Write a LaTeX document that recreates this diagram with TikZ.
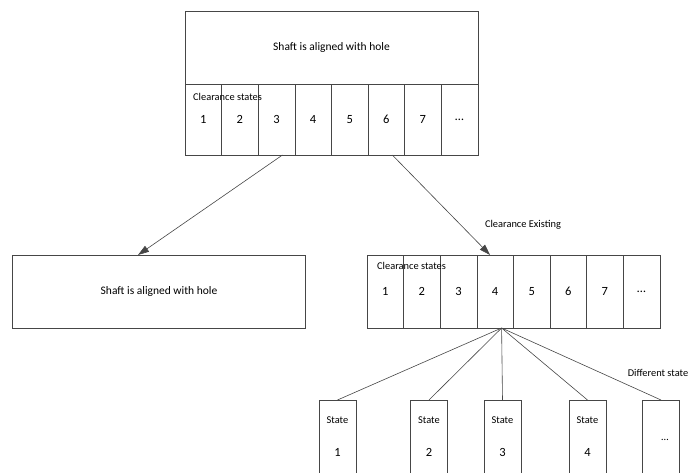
\documentclass[tikz,border=0pt]{standalone}
\usepackage{fontspec}
\setmainfont{Carlito}
\usetikzlibrary{arrows.meta, positioning}

\definecolor{linegray}{RGB}{70,70,70}

\begin{document}
\begin{tikzpicture}[x=1pt, y=-1pt,
    box/.style={draw=linegray, line width=0.6pt, rectangle, inner sep=0pt, outer sep=0pt},
    cell/.style={box, minimum width=36.6pt, minimum height=71pt, font=\fontsize{12.5}{14}\selectfont},
    bigbox/.style={box, minimum width=293pt, minimum height=73pt, font=\fontsize{11.5}{14}\selectfont},
    statebox/.style={box, minimum width=37pt, minimum height=84pt},
    small/.style={font=\fontsize{10.4}{12}\selectfont, inner sep=0pt},
    num/.style={font=\fontsize{12.5}{14}\selectfont, inner sep=0pt},
    link/.style={draw=linegray, line width=0.6pt},
    arrowlink/.style={link, -{Triangle[length=11pt, width=7pt]}}]
                % Cadre
                \clip (0,0) rectangle (691,473);

                % Bloc du haut
                \node[bigbox] (topbox) at (331.5,47.5) {Shaft is aligned with hole};
                \foreach \lab [count=\i] in {1,2,3,4,5,6,7,\dots}
                    \node[cell] (t\i) at (166.7+36.6*\i,119.5) {\lab};
                \node[small, anchor=west] (topstates) at (193,97) {Clearance states};

                % Bloc de gauche
                \node[bigbox] (leftbox) at (159,291.5) {Shaft is aligned with hole};

                % Bloc de droite
                \foreach \lab [count=\i] in {1,2,3,4,5,6,7,\dots}
                    \node[cell, minimum height=73pt] (r\i) at (348.7+36.6*\i,291.5) {\lab};
                \node[small, anchor=west] (rightstates) at (377,266) {Clearance states};
                \node[small] (existing) at (523,225) {Clearance Existing};

                % Etats
                \foreach \lab/\x [count=\i] in {1/337.5, 2/429, 3/502.5, 4/587.5, \dots/661}
                    \node[statebox] (s\i) at (\x,442) {};
                \foreach \i in {1,2,3,4} {
                    \node[small] at ([yshift=-20pt]s\i.north) {State};
                    \node[num] at ([yshift=-52pt]s\i.north) {\i};
                }
                \node[small] at ([xshift=4pt, yshift=-40pt]s5.north) {\dots};
                \node[small] (different) at (658,373) {Different state};

                % Fleches
                \draw[arrowlink] ([xshift=6pt]t3.south) -- ([xshift=-21pt]leftbox.north);
                \draw[arrowlink] ([xshift=6pt]t6.south) -- ([xshift=-5pt]r4.north);

                % Eventail vers les etats
                \coordinate (fan) at ([xshift=6.5pt]r4.south);
                \foreach \i in {1,...,5}
                    \draw[link] (fan) -- (s\i.north);
\end{tikzpicture}
\end{document}
